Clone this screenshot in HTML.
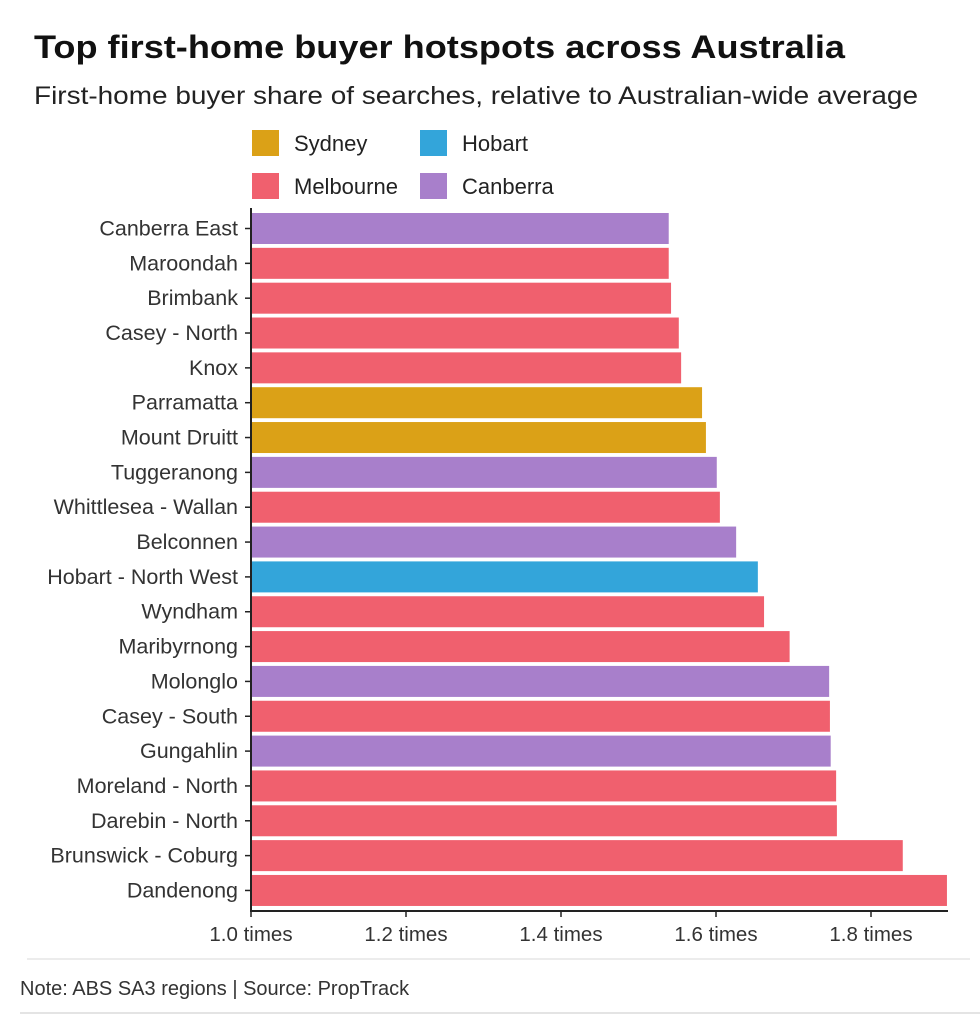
<!DOCTYPE html>
<html><head><meta charset="utf-8"><style>
body{margin:0;background:#fff;font-family:"Liberation Sans",sans-serif;}
#wrap{position:relative;width:980px;height:1030px;overflow:hidden;}
</style></head><body>
<div id="wrap">
<svg id="chart" width="980" height="1030">
<text x="34" y="58" font-size="32" font-weight="bold" fill="#111" textLength="811" lengthAdjust="spacingAndGlyphs">Top first-home buyer hotspots across Australia</text>
<text x="34" y="104" font-size="25" fill="#222" textLength="884" lengthAdjust="spacingAndGlyphs">First-home buyer share of searches, relative to Australian-wide average</text>
<g>
<rect x="252" y="130" width="27" height="26" fill="#DBA117"/>
<text x="294" y="151" font-size="22" fill="#222">Sydney</text>
<rect x="420" y="130" width="27" height="26" fill="#33A5DA"/>
<text x="462" y="151" font-size="22" fill="#222">Hobart</text>
<rect x="252" y="173" width="27" height="26" fill="#F0606E"/>
<text x="294" y="194" font-size="22" fill="#222">Melbourne</text>
<rect x="420" y="173" width="27" height="26" fill="#A87FCB"/>
<text x="462" y="194" font-size="22" fill="#222">Canberra</text>
</g>
<g id="bars"></g>
<g id="axes"></g>
<line x1="27" y1="959" x2="970" y2="959" stroke="#e6e6e6" stroke-width="1.5"/>
<text x="20" y="995" font-size="20" fill="#333">Note: ABS SA3 regions | Source: PropTrack</text>
<line x1="20" y1="1013" x2="980" y2="1013" stroke="#dcdcdc" stroke-width="1.5"/>
</svg>
</div>
<script>
const categories=["Canberra East","Maroondah","Brimbank","Casey - North","Knox","Parramatta","Mount Druitt","Tuggeranong","Whittlesea - Wallan","Belconnen","Hobart - North West","Wyndham","Maribyrnong","Molonglo","Casey - South","Gungahlin","Moreland - North","Darebin - North","Brunswick - Coburg","Dandenong"];
const values=[1.539,1.539,1.542,1.552,1.555,1.582,1.587,1.601,1.605,1.626,1.654,1.662,1.695,1.746,1.747,1.748,1.755,1.756,1.841,1.898];
const cities=["Canberra","Melbourne","Melbourne","Melbourne","Melbourne","Sydney","Sydney","Canberra","Melbourne","Canberra","Hobart","Melbourne","Melbourne","Canberra","Melbourne","Canberra","Melbourne","Melbourne","Melbourne","Melbourne"];
const ticks=[1.0,1.2,1.4,1.6,1.8];
const tickLabels=["1.0 times","1.2 times","1.4 times","1.6 times","1.8 times"];
const colors={Sydney:"#DBA117",Melbourne:"#F0606E",Hobart:"#33A5DA",Canberra:"#A87FCB"};
const NS="http://www.w3.org/2000/svg";
const x0=251,pxPer=775,minV=1.0,plotRight=948,yTop=213,step=34.84,bh=31,axisY=911;
const xs=v=>Math.min(plotRight,x0+(v-minV)*pxPer);
const ys=i=>yTop+i*step;
const bars=document.getElementById('bars'),axes=document.getElementById('axes');
function mk(t,a){const e=document.createElementNS(NS,t);for(const k in a)e.setAttribute(k,a[k]);return e;}
categories.forEach((c,i)=>{
  const r=mk('rect',{x:x0+1,y:ys(i),width:xs(values[i])-x0-1,height:bh,fill:colors[cities[i]]});
  
  
  bars.appendChild(r);
  const t=mk('text',{x:238,y:ys(i)+bh/2+7,'text-anchor':'end','font-size':'21.5',fill:'#333'});
  t.textContent=c;
  
  
  axes.appendChild(t);
  const tk=mk('line',{x1:245,x2:251,y1:ys(i)+bh/2,y2:ys(i)+bh/2,stroke:'#222','stroke-width':1.5});
  
  
  axes.appendChild(tk);
});
const yl=mk('line',{x1:251,x2:251,y1:208,y2:axisY,stroke:'#222','stroke-width':2});


axes.appendChild(yl);
const xl=mk('line',{x1:250,x2:plotRight,y1:axisY,y2:axisY,stroke:'#222','stroke-width':2});


axes.appendChild(xl);
ticks.forEach((v,i)=>{
  const l=mk('line',{x1:xs(v),x2:xs(v),y1:axisY,y2:axisY+6,stroke:'#222','stroke-width':1.5});
  
  
  axes.appendChild(l);
  const t=mk('text',{x:xs(v),y:axisY+30,'text-anchor':'middle','font-size':'20.5',fill:'#333'});
  t.textContent=tickLabels[i];
  
  
  axes.appendChild(t);
});
</script>
</body></html>
